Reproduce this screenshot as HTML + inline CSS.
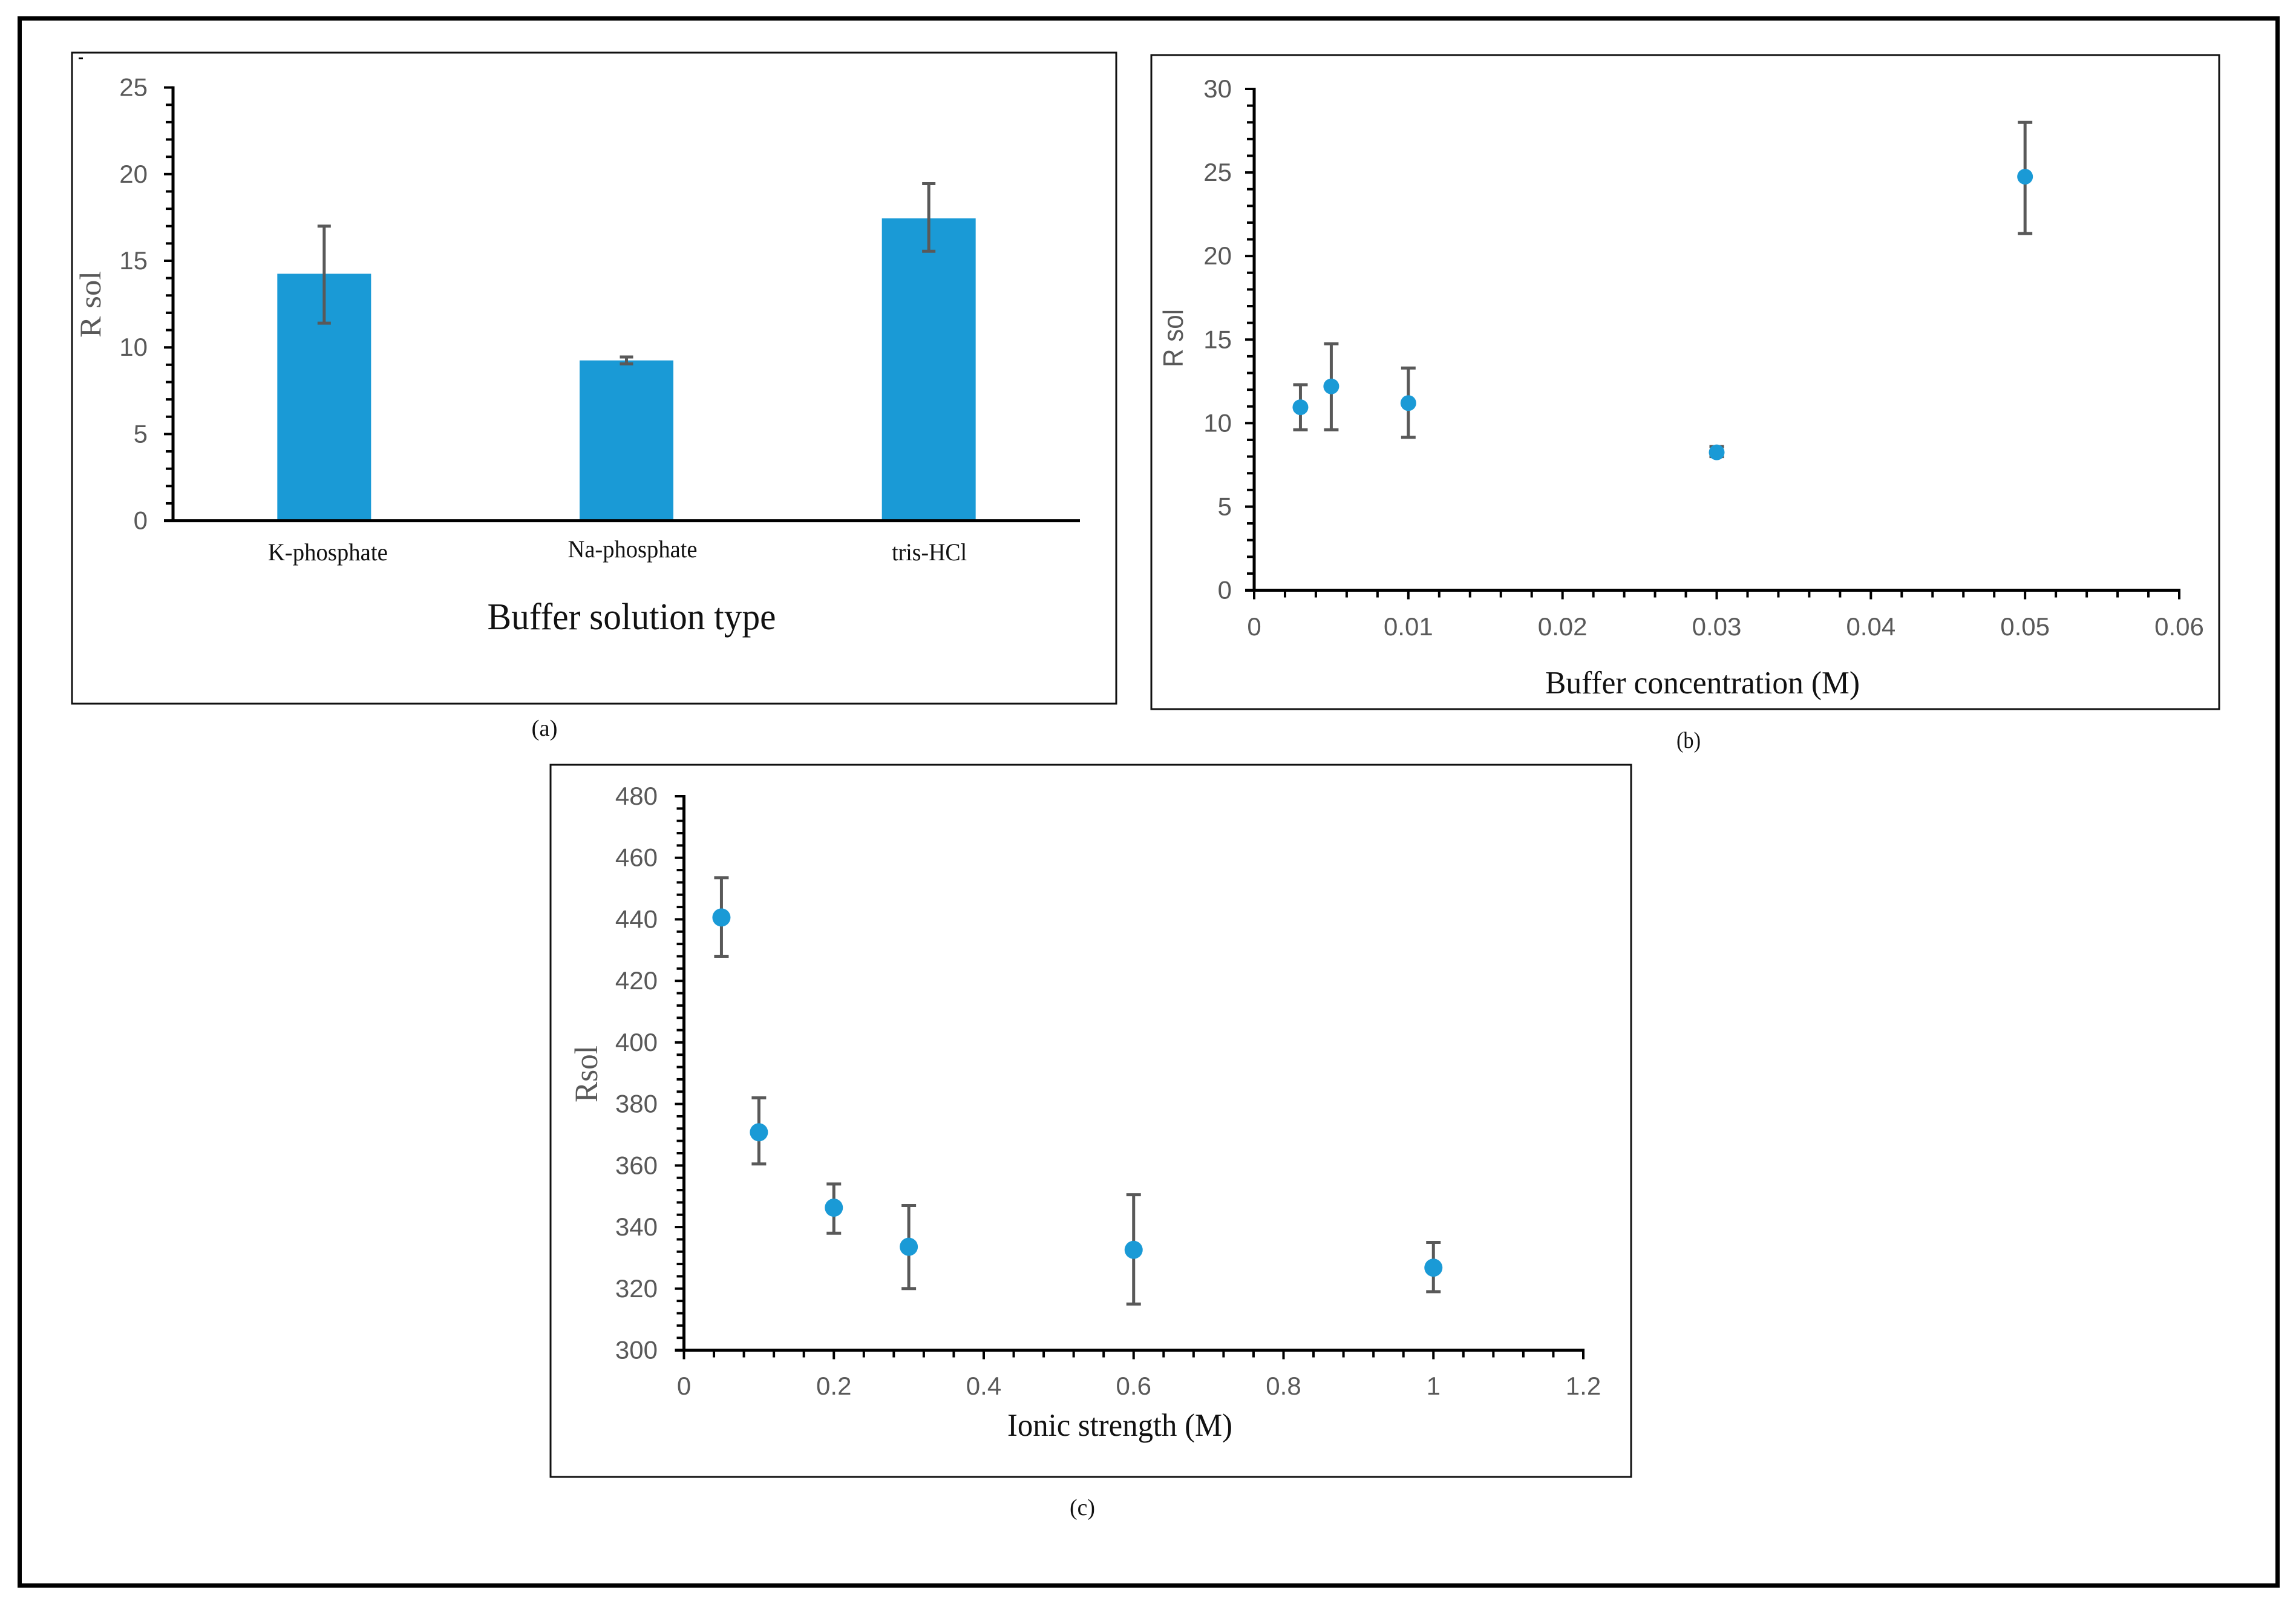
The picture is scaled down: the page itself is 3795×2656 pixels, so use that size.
<!DOCTYPE html>
<html>
<head>
<meta charset="utf-8">
<title>Rsol charts</title>
<style>
html,body{margin:0;padding:0;background:#fff;width:3795px;height:2656px;overflow:hidden}
svg{display:block}
.serif{font-family:"Liberation Serif",serif}
.sans{font-family:"Liberation Sans",sans-serif}
</style>
</head>
<body>
<svg id="figure" xmlns="http://www.w3.org/2000/svg" width="3795" height="2656" viewBox="0 0 3795 2656">
  <rect x="32.5" y="30.5" width="3732" height="2590" fill="none" stroke="#000" stroke-width="7"/>
  <rect x="119" y="87" width="1726" height="1076" fill="#fff" stroke="#111" stroke-width="3"/>
  <rect x="1903" y="91" width="1765" height="1081" fill="#fff" stroke="#111" stroke-width="3"/>
  <rect x="910" y="1264" width="1786" height="1177" fill="#fff" stroke="#111" stroke-width="3"/>
  <rect x="130" y="95" width="7" height="3" fill="#000"/>

  <text class="serif" x="1044" y="1040" font-size="62" text-anchor="middle" textLength="477" lengthAdjust="spacingAndGlyphs" fill="#111">Buffer solution type</text>
  <text class="serif" transform="translate(166,503) rotate(-90)" font-size="50" text-anchor="middle" textLength="110" lengthAdjust="spacingAndGlyphs" fill="#595959">R sol</text>
  <text class="serif" x="900" y="1216" font-size="38" text-anchor="middle" textLength="43" lengthAdjust="spacingAndGlyphs" fill="#111">(a)</text>

  <text class="serif" x="2814" y="1146" font-size="53" text-anchor="middle" textLength="520" lengthAdjust="spacingAndGlyphs" fill="#111">Buffer concentration (M)</text>
  <text class="sans" transform="translate(1955,559) rotate(-90)" font-size="46" text-anchor="middle" textLength="96" lengthAdjust="spacingAndGlyphs" fill="#595959">R sol</text>
  <text class="serif" x="2791" y="1236" font-size="38" text-anchor="middle" textLength="40" lengthAdjust="spacingAndGlyphs" fill="#111">(b)</text>

  <text class="serif" x="1851" y="2373" font-size="53" text-anchor="middle" textLength="372" lengthAdjust="spacingAndGlyphs" fill="#111">Ionic strength (M)</text>
  <text class="serif" transform="translate(987,1775) rotate(-90)" font-size="54" text-anchor="middle" textLength="94" lengthAdjust="spacingAndGlyphs" fill="#595959">Rsol</text>
  <text class="serif" x="1789" y="2504" font-size="38" text-anchor="middle" textLength="42" lengthAdjust="spacingAndGlyphs" fill="#111">(c)</text>
</svg>
<script>
// Panel (a): bar chart
var aCategories = ['K-phosphate', 'Na-phosphate', 'tris-HCl'];
var aValues = [14.25, 9.25, 17.45];
var aErrHigh = [17.0, 9.45, 19.45];
var aErrLow = [11.4, 9.05, 15.55];
var aYTicks = [0, 5, 10, 15, 20, 25];
var aYMinorStep = 1;

// Panel (b): scatter
var bX = [0.003, 0.005, 0.01, 0.03, 0.05];
var bY = [10.95, 12.2, 11.2, 8.25, 24.75];
var bErrHigh = [12.3, 14.75, 13.3, 8.6, 28.0];
var bErrLow = [9.6, 9.6, 9.15, 8.0, 21.35];
var bXTicks = [0, 0.01, 0.02, 0.03, 0.04, 0.05, 0.06];
var bYTicks = [0, 5, 10, 15, 20, 25, 30];
var bXMinorStep = 0.002;
var bYMinorStep = 1;

// Panel (c): scatter
var cX = [0.05, 0.1, 0.2, 0.3, 0.6, 1];
var cY = [440.6, 370.8, 346.3, 333.6, 332.6, 326.8];
var cErrHigh = [453.5, 382, 354, 347, 350.5, 335];
var cErrLow = [428, 360.5, 338, 320, 315, 319];
var cXTicks = [0, 0.2, 0.4, 0.6, 0.8, 1, 1.2];
var cYTicks = [300, 320, 340, 360, 380, 400, 420, 440, 460, 480];
var cXMinorStep = 0.04;
var cYMinorStep = 4;

var svg = document.getElementById('figure');
var NS = 'http://www.w3.org/2000/svg';
var AXIS = '#000', GRAY = '#595959', BLUE = '#1a9ad6';

function make(tag, attrs, parent) {
  var el = document.createElementNS(NS, tag);
  for (var k in attrs) el.setAttribute(k, attrs[k]);
  (parent || svg).appendChild(el);
  return el;
}
function linear(d0, d1, r0, r1) {
  return function (v) { return r0 + (v - d0) * (r1 - r0) / (d1 - d0); };
}
function line(x1, y1, x2, y2, color, w, parent) {
  return make('line', {x1: x1, y1: y1, x2: x2, y2: y2, stroke: color, 'stroke-width': w}, parent);
}
function label(str, x, y, anchor, size, family, color, parent) {
  var t = make('text', {x: x, y: y, 'text-anchor': anchor, 'font-size': size, 'class': family, fill: color}, parent);
  t.textContent = str;
  return t;
}

function drawYAxis(g, ticks, minorStep, sx, sy, labelRight, x0) {
  var lo = ticks[0], hi = ticks[ticks.length - 1];
  var axis = line(x0, sy(hi) - 2, x0, sy(lo) + 2, AXIS, 5, g);
  
  
  var n = Math.round((hi - lo) / minorStep);
  for (var i = 1; i < n; i++) {
    var v = lo + i * minorStep;
    if (ticks.indexOf(v) >= 0) continue;
    var m = line(x0 - 12, sy(v), x0, sy(v), AXIS, 4, g);
    
    
  }
  ticks.forEach(function (v) {
    var tk = line(x0 - 15, sy(v), x0, sy(v), AXIS, 4, g);
    
    
    var lb = label(String(v), labelRight, sy(v) + 14, 'end', 42, 'sans', GRAY, g);
    
    
  });
}

function drawXAxis(g, ticks, minorStep, sx, y0, labelY) {
  var lo = ticks[0], hi = ticks[ticks.length - 1];
  var axis = line(sx(lo) - 15, y0, sx(hi) + 2, y0, AXIS, 5, g);
  
  
  var n = Math.round((hi - lo) / minorStep);
  var perMajor = Math.round((ticks[1] - ticks[0]) / minorStep);
  for (var i = 0; i <= n; i++) {
    var v = lo + i * minorStep;
    var tk = line(sx(v), y0, sx(v), y0 + (i % perMajor === 0 ? 15 : 12), AXIS, 4, g);
    
    
  }
  ticks.forEach(function (v) {
    var lb = label(String(v), sx(v), labelY, 'middle', 42, 'sans', GRAY, g);
    
    
  });
}

function drawErrorBar(g, x, yHigh, yLow, cap, name) {
  var v = line(x, yHigh, x, yLow, GRAY, 5, g);
  
  
  var t = line(x - cap / 2, yHigh, x + cap / 2, yHigh, GRAY, 5, g);
  
  
  var b = line(x - cap / 2, yLow, x + cap / 2, yLow, GRAY, 5, g);
  
  
}

function drawScatter(g, xs, ys, hi, lo, sx, sy, r, cap, name) {
  xs.forEach(function (xv, i) {
    drawErrorBar(g, sx(xv), sy(hi[i]), sy(lo[i]), cap, name + '-point');
    var c = make('circle', {cx: sx(xv), cy: sy(ys[i]), r: r, fill: BLUE}, g);
    
    
  });
}

/* ---------- Panel a ---------- */
(function () {
  var g = make('g', {});
  
  
  var sy = linear(0, 25, 860.6, 144.6);
  var slotLeft = 286, slotWidth = 1499 / aCategories.length;
  var barW = 155;
  aCategories.forEach(function (name, i) {
    var cx = slotLeft + slotWidth * (i + 0.5);
    var bar = make('rect', {x: cx - barW / 2, y: sy(aValues[i]), width: barW, height: sy(0) - sy(aValues[i]), fill: BLUE}, g);
    
    
    drawErrorBar(g, cx, sy(aErrHigh[i]), sy(aErrLow[i]), 22, 'bar-' + i);
    var off = [6, 10, 1][i];
    var yl = [926, 921, 926][i];
    var tw = [198, 214, 124][i];
    var lb = label(name, cx + off, yl, 'middle', 40, 'serif', '#111', g);
    lb.setAttribute('textLength', tw);
    lb.setAttribute('lengthAdjust', 'spacingAndGlyphs');
    
    
  });
  var xAxis = line(271, sy(0), 1785, sy(0), AXIS, 5, g);
  
  
  drawYAxis(g, aYTicks, aYMinorStep, null, sy, 244, 286);
})();

/* ---------- Panel b ---------- */
(function () {
  var g = make('g', {});
  
  
  var sx = linear(0, 0.06, 2073, 3602);
  var sy = linear(0, 30, 975.5, 147);
  drawYAxis(g, bYTicks, bYMinorStep, sx, sy, 2036, sx(0));
  drawXAxis(g, bXTicks, bXMinorStep, sx, sy(0), 1050);
  drawScatter(g, bX, bY, bErrHigh, bErrLow, sx, sy, 13, 24, 'buffer-concentration');
})();

/* ---------- Panel c ---------- */
(function () {
  var g = make('g', {});
  
  
  var sx = linear(0, 1.2, 1130.5, 2617);
  var sy = linear(300, 480, 2231.5, 1316);
  drawYAxis(g, cYTicks, cYMinorStep, sx, sy, 1087, sx(0));
  drawXAxis(g, cXTicks, cXMinorStep, sx, sy(300), 2305);
  drawScatter(g, cX, cY, cErrHigh, cErrLow, sx, sy, 15, 24, 'ionic-strength');
})();
</script>
</body>
</html>
